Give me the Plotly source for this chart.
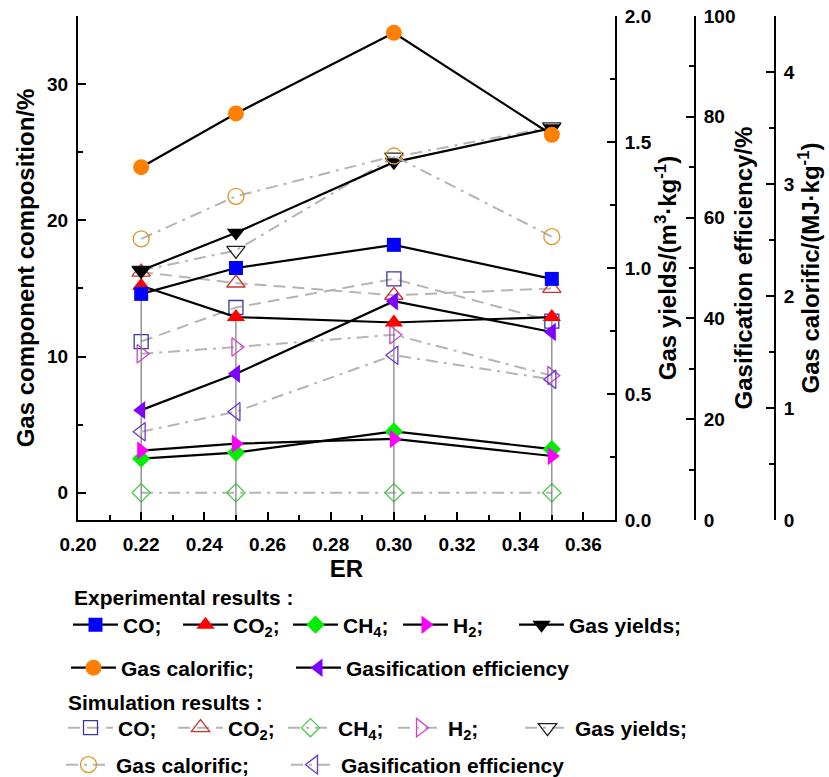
import plotly.graph_objects as go

# ---------------- data ----------------
ER = [0.22, 0.25, 0.30, 0.35]

exp_CO = [14.6, 16.5, 18.2, 15.7]
exp_CO2 = [15.2, 12.9, 12.5, 12.9]
exp_CH4 = [2.5, 2.95, 4.5, 3.2]
exp_H2 = [3.1, 3.6, 3.95, 2.7]
exp_yield = [0.99, 1.14, 1.42, 1.555]
exp_eff = [21.8, 29.0, 43.4, 37.3]
exp_cal = [3.15, 3.63, 4.35, 3.44]

sim_CO = [11.1, 13.6, 15.7, 12.6]
sim_CO2 = [16.2, 15.4, 14.5, 15.0]
sim_CH4 = [0.0, 0.0, 0.0, 0.0]
sim_H2 = [10.2, 10.7, 11.6, 8.6]
sim_yield = [0.99, 1.07, 1.44, 1.56]
sim_eff = [17.5, 21.5, 32.7, 27.9]
sim_cal = [2.51, 2.89, 3.25, 2.53]

Y_LEFT = [-2, 35]
Y_YIELD = [0, 2.0]
Y_EFF = [0, 100]
Y_CAL = [0, 4.5]
X_RANGE = [0.20, 0.37]

FONT = "Liberation Sans, Arial, sans-serif"
SIM_LINE = "#b5b5b5"
DASH = "12px,7px"
DASHDOT = "12px,6px,3px,6px"

fig = go.Figure()


def sim(name, y, yaxis, color, symbol, size, legend, dash):
    fig.add_trace(go.Scatter(
        x=ER, y=y, yaxis=yaxis, name=name, mode="lines+markers", legend=legend,
        line=dict(color=SIM_LINE, width=2, dash=dash),
        marker=dict(symbol=symbol, size=size, color=color, line=dict(color=color, width=1.3)),
    ))


def exp(name, y, yaxis, color, symbol, size, legend, **kw):
    fig.add_trace(go.Scatter(
        x=ER, y=y, yaxis=yaxis, name=name, mode="lines+markers", legend=legend,
        line=dict(color="black", width=2.2),
        marker=dict(symbol=symbol, size=size, color=color, line=dict(width=0)),
        **kw,
    ))


# simulation (drawn first, underneath)
sim("CO;", sim_CO, "y", "#3a3a9a", "square-open", 14, "legend3", DASH)
sim("CO<sub>2</sub>;", sim_CO2, "y", "#cc3333", "triangle-up-open", 16, "legend3", DASH)
sim("CH<sub>4</sub>;", sim_CH4, "y", "#44cc44", "diamond-open", 14, "legend3", DASHDOT)
sim("H<sub>2</sub>;", sim_H2, "y", "#cc44cc", "triangle-right-open", 16, "legend3", DASHDOT)
sim("Gas yields;", sim_yield, "y2", "#222222", "triangle-down-open", 16, "legend7", DASHDOT)
sim("Gas calorific;", sim_cal, "y4", "#e0962a", "circle-open", 16, "legend4", DASHDOT)
sim("Gasification efficiency", sim_eff, "y3", "#6a3acc", "triangle-left-open", 16, "legend8", DASHDOT)

# experimental
exp("CO<sub>2</sub>;", exp_CO2, "y", "#ff0000", "triangle-up", 16, "legend",
    error_y=dict(type="data", symmetric=False, array=[0] * len(ER),
                 arrayminus=[v - Y_LEFT[0] for v in exp_CO2],
                 color="#7a7a7a", thickness=1.2, width=0))
exp("CO;", exp_CO, "y", "#0000ff", "square", 14, "legend")
exp("CH<sub>4</sub>;", exp_CH4, "y", "#00ee00", "diamond", 14, "legend")
exp("H<sub>2</sub>;", exp_H2, "y", "#ff00ff", "triangle-right", 16, "legend")
exp("Gas yields;", exp_yield, "y2", "#000000", "triangle-down", 16, "legend5")
exp("Gas calorific;", exp_cal, "y4", "#ff8000", "circle", 16, "legend2")
exp("Gasification efficiency", exp_eff, "y3", "#7f00ff", "triangle-left", 16, "legend6")

for i, tr in enumerate(fig.data):
    tr.legendrank = 10 + i
fig.data[8].legendrank = 1   # CO before CO2 in the experimental row

tickfont = dict(family=FONT, size=19, color="black", weight="bold")
titlefont = dict(family=FONT, size=24, color="black", weight="bold")
axis_common = dict(showgrid=False, zeroline=False, showline=True, linecolor="black",
                   linewidth=2, ticks="inside", ticklen=8, tickwidth=2, tickcolor="black",
                   tickfont=tickfont)


def minor(dt):
    return dict(ticks="inside", ticklen=5, tickwidth=1.5, tickcolor="black", dtick=dt, tick0=0)


W, H = 829, 777
ML, MR, MT, MB = 78, 20, 16, 257
PW = W - ML - MR
PH = H - MT - MB
XDOM_END = (615 - ML) / PW

fig.update_layout(
    width=W, height=H,
    margin=dict(l=ML, r=MR, t=MT, b=MB, autoexpand=False),
    paper_bgcolor="white", plot_bgcolor="white",
    font=dict(family=FONT, color="black"),
    xaxis=dict(domain=[0, XDOM_END], range=X_RANGE, tick0=0.20, dtick=0.02, tickformat=".2f",
               title=dict(text="ER", font=titlefont, standoff=6), anchor="y",
               minor=dict(ticks="inside", ticklen=5, tickwidth=1.5, tickcolor="black", dtick=0.01, tick0=0.20),
               ticklabelstandoff=6, **axis_common),
    yaxis=dict(range=Y_LEFT, tick0=0, dtick=10, anchor="x",
               title=dict(text="Gas component composition/%", font=titlefont, standoff=6),
               minor=minor(5), ticklabelstandoff=4, **axis_common),
    yaxis2=dict(range=Y_YIELD, tick0=0, dtick=0.5, tickformat=".1f", overlaying="y", side="right",
                anchor="x", title=dict(text="Gas yields/(m<sup>3</sup>·kg<sup>-1</sup>)", font=titlefont, standoff=0),
                minor=minor(0.25), ticklabelstandoff=4, **axis_common),
    yaxis3=dict(range=Y_EFF, tick0=0, dtick=20, overlaying="y", side="right", anchor="free",
                position=(695 - ML) / PW,
                title=dict(text="Gasification efficiency/%", font=titlefont, standoff=0),
                minor=minor(10), ticklabelstandoff=4, **axis_common),
    yaxis4=dict(range=Y_CAL, tick0=0, dtick=1, overlaying="y", side="right", anchor="free",
                position=(775 - ML) / PW,
                title=dict(text="Gas calorific/(MJ·kg<sup>-1</sup>)", font=titlefont, standoff=0),
                minor=minor(0.5), ticklabelstandoff=4, **axis_common),
)

legfont = dict(family=FONT, size=21, color="black", weight="bold")
IW = 45          # legend symbol width
OFF = 27         # marker centre offset from legend left (approx)


def leg(marker_x, ypx, ew=0):
    d = dict(orientation="h", xref="container", yref="container",
             x=(marker_x - OFF) / W, y=1 - ypx / H, xanchor="left", yanchor="middle",
             font=legfont, bgcolor="rgba(0,0,0,0)", borderwidth=0,
             itemwidth=IW, traceorder="normal", tracegroupgap=0, itemclick=False)
    if ew:
        d.update(entrywidth=ew, entrywidthmode="pixels")
    return d


ROW_EW = 50
fig.update_layout(
    legend=leg(95, 625, ROW_EW),
    legend5=leg(541, 625),
    legend2=leg(93, 668),
    legend6=leg(318, 668),
    legend3=leg(90, 728, ROW_EW),
    legend7=leg(547, 728),
    legend4=leg(88, 765),
    legend8=leg(313, 765),
    annotations=[
        dict(text="Experimental results :", xref="paper", yref="paper",
             x=(72 - ML) / PW, y=(520 - 597) / PH, xanchor="left", yanchor="middle",
             showarrow=False, font=legfont),
        dict(text="Simulation results :", xref="paper", yref="paper",
             x=(66 - ML) / PW, y=(520 - 702) / PH, xanchor="left", yanchor="middle",
             showarrow=False, font=legfont),
    ],
)

fig.write_html("out.html", post_script="document.body.style.margin='0';",
               config={"displayModeBar": False})
